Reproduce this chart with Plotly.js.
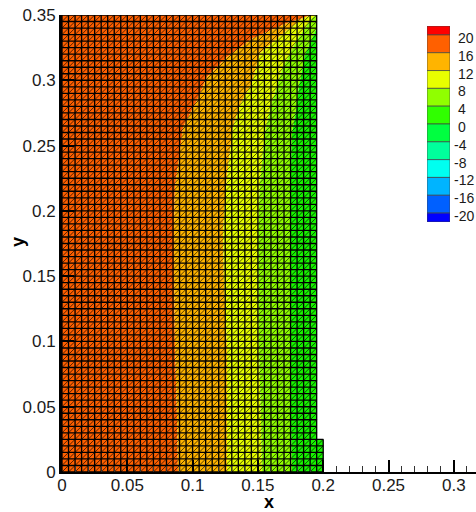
<!DOCTYPE html>
<html><head><meta charset="utf-8">
<script src="https://cdn.plot.ly/plotly-3.0.1.min.js"></script>
<style>html,body{margin:0;padding:0;background:#fff}</style></head>
<body><div id="chart" style="width:476px;height:512px"></div>
<script>
// Mesh outline and cell size
var meshStep = 0.005;
var meshMainX = 0.195, meshStepX = 0.2, meshStepY = 0.025, meshTopY = 0.35;

// Contour lines
var level16 = {x:[0.0888,0.0881,0.0865,0.0858,0.0858,0.0865,0.0904,0.0927,0.1034,0.1110,0.1263,0.1462,0.1723,0.1914],
               y:[0,0.0398,0.0972,0.147,0.193,0.2182,0.2466,0.2642,0.2848,0.3025,0.3178,0.3323,0.3438,0.35]};
var level12 = {x:[0.1263,0.1263,0.1240,0.1233,0.1248,0.1271,0.1309,0.1363,0.1455,0.1516,0.1723,0.1861],
               y:[0,0.0972,0.147,0.183,0.2083,0.2336,0.2642,0.2810,0.2979,0.3208,0.3384,0.3484]};
var level8  = {x:[0.1531,0.1524,0.1508,0.1501,0.1516,0.1554,0.1600,0.1631,0.1692,0.1799,0.1914],
               y:[0,0.0398,0.0972,0.183,0.2213,0.2596,0.2810,0.2902,0.3101,0.3308,0.3476]};
var level4  = {x:[0.1761,0.1753,0.1746,0.1746,0.1761,0.1792,0.1815,0.1861,0.195],
               y:[0,0.0398,0.0972,0.2083,0.2596,0.2766,0.2957,0.3193,0.34]};

// Colour legend
var legendLevels = [22,20,16,12,8,4,0,-4,-8,-12,-16,-20,-22];
var legendColors = ['#ff0000','#ff6000','#ffb400','#e8ff00','#90ff00','#30ff00','#00ff40','#00ff9c','#00fff0','#00b4ff','#0060ff','#0000ff'];
var legendTicks = [20,16,12,8,4,0,-4,-8,-12,-16,-20];
var fieldColors = {a:'#ff6000',b:'#ffb400',c:'#e8ff00',d:'#90ff00',e:'#18f500'};

var xTicks = [0,0.05,0.1,0.15,0.2,0.25,0.3];
var xLabels = ['0','0.05','0.1','0.15','0.2','0.25','0.3'];
var yTicks = [0,0.05,0.1,0.15,0.2,0.25,0.3,0.35];
var yLabels = ['0','0.05','0.1','0.15','0.2','0.25','0.3','0.35'];

function band(left,rightLine,color){
  var xs,ys,rx,ry;
  if(!left){ xs=[0,0]; ys=[0,meshTopY]; }
  else { xs=left.x.slice(); ys=left.y.slice(); if(ys[ys.length-1]<meshTopY){xs.push(meshMainX);ys.push(meshTopY);} }
  if(!rightLine){ rx=[meshStepX,meshStepX,meshMainX,meshMainX]; ry=[0,meshStepY,meshStepY,meshTopY]; }
  else { rx=rightLine.x.slice(); ry=rightLine.y.slice(); if(ry[ry.length-1]<meshTopY){rx.push(meshMainX);ry.push(meshTopY);} }
  return {type:'scatter',mode:'none',fill:'toself',fillcolor:color,hoverinfo:'skip',showlegend:false,
    x:xs.concat(rx.slice().reverse()), y:ys.concat(ry.slice().reverse())};
}
var traces=[
  band(null,level16,fieldColors.a),
  band(level16,level12,fieldColors.b),
  band(level12,level8,fieldColors.c),
  band(level8,level4,fieldColors.d),
  band(level4,null,fieldColors.e)
];

// Mesh: quads and one diagonal per quad
var qx=[],qy=[],dx=[],dy=[];
var nx=Math.round(meshStepX/meshStep), ny=Math.round(meshTopY/meshStep), nsy=Math.round(meshStepY/meshStep), nmx=Math.round(meshMainX/meshStep);
for(var i=0;i<=nx;i++){var gx=i*meshStep; var colTop=i<=nmx?meshTopY:meshStepY; qx.push(gx,gx,null); qy.push(0,colTop,null);}
for(var j=0;j<=ny;j++){var gy=j*meshStep; var rowEnd=j<=nsy?meshStepX:meshMainX; qx.push(0,rowEnd,null); qy.push(gy,gy,null);}
for(i=0;i<nx;i++)for(j=0;j<ny;j++){ if(i>=nmx&&j>=nsy)continue; dx.push(i*meshStep,(i+1)*meshStep,null); dy.push(j*meshStep,(j+1)*meshStep,null);}
traces.push({type:'scatter',mode:'lines',x:dx,y:dy,line:{color:'rgba(0,0,0,0.75)',width:0.9},hoverinfo:'skip',showlegend:false});
traces.push({type:'scatter',mode:'lines',x:qx,y:qy,line:{color:'#000',width:1.35},hoverinfo:'skip',showlegend:false});

// Legend bars
for(var k=0;k<legendColors.length;k++){
  traces.push({type:'bar',xaxis:'x2',yaxis:'y2',x:[0],y:[legendLevels[k]-legendLevels[k+1]],base:[legendLevels[k+1]],width:[1],
    marker:{color:legendColors[k],line:{color:'#404040',width:0.7}},hoverinfo:'skip',showlegend:false});
}

var W=476,H=512,L=62,R=476,T=15,B=472;
var font={family:'Liberation Sans, Arial, sans-serif',size:17,color:'#1a1a1a'};
var titleFont={family:font.family,size:18,color:'#000',weight:'bold'};
var layout={
  width:W,height:H,margin:{l:L,r:W-R,t:T,b:H-B},paper_bgcolor:'#fff',plot_bgcolor:'#fff',showlegend:false,barmode:'overlay',
  xaxis:{domain:[0,1],range:[0,(R-L)/1306],tickmode:'array',tickvals:xTicks,ticktext:xLabels,ticks:'inside',ticklen:12,tickwidth:2,tickcolor:'#000',
    minor:{dtick:0.01,ticks:'inside',ticklen:6,tickwidth:1,tickcolor:'#333',showgrid:false},showgrid:false,zeroline:false,showline:true,linecolor:'#000',linewidth:2,
    tickfont:font,ticklabelstandoff:-3,title:{text:'x',font:titleFont,standoff:10},layer:'above traces'},
  yaxis:{domain:[0,1],range:[0,0.35],tickmode:'array',tickvals:yTicks,ticktext:yLabels,ticks:'inside',ticklen:12,tickwidth:2,tickcolor:'#000',
    showgrid:false,zeroline:false,showline:true,linecolor:'#000',linewidth:3,tickfont:font,layer:'above traces'},
  xaxis2:{domain:[(427-L)/(R-L),(450-L)/(R-L)],anchor:'y2',range:[-0.5,0.5],showticklabels:false,ticks:'',showgrid:false,zeroline:false,showline:false,fixedrange:true},
  yaxis2:{domain:[(B-222)/(B-T),(B-26)/(B-T)],anchor:'free',position:(453-L)/(R-L),side:'right',range:[-22,22],
    tickmode:'array',tickvals:legendTicks.map(function(v){return v-0.7;}),
    ticktext:legendTicks.map(function(v){return v<0?String(v):'\u00a0'+v;}),ticks:'',showgrid:false,zeroline:false,showline:false,
    tickfont:{family:font.family,size:14,color:'#1a1a1a'}},
  annotations:[{text:'y',font:titleFont,xref:'paper',yref:'paper',x:(18-L)/(R-L),y:(B-242)/(B-T),xanchor:'center',yanchor:'middle',textangle:-90,showarrow:false}]
};
Plotly.newPlot('chart',traces,layout,{displayModeBar:false,staticPlot:true});
</script></body></html>
